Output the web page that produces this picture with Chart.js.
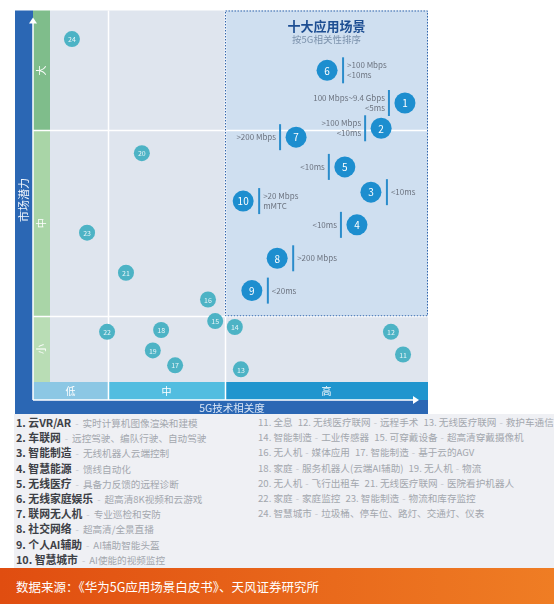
<!DOCTYPE html>
<html>
<head>
<meta charset="utf-8">
<script src="https://cdn.jsdelivr.net/npm/chart.js@4.4.1/dist/chart.umd.min.js"></script>
<style>
body{margin:0;background:#fff;width:554px;height:604px;overflow:hidden;position:relative;font-family:"Noto Sans CJK SC","Noto Sans",sans-serif}
#wrap{position:absolute;left:0;top:0;width:554px;height:414px}
#legend{position:absolute;left:14px;top:414px;width:540px;height:154px;background:#eff0f4}
.col{position:absolute;top:1px}
.row{height:15.2px;line-height:15.2px;font-size:9.6px;color:#a3a7ae;white-space:nowrap}
.row b{color:#3d4046;font-size:10.8px}
.row .d{color:#c3c6cc;margin:0 4px}
#colB .row .d{margin:0 3px}
.row span.g{margin-right:5px}
#foot{position:absolute;left:0;top:568px;width:554px;height:36px;background:linear-gradient(90deg,#e04d10,#ef7d24);color:#fff;font-size:12.5px;line-height:38px;padding-left:16px;box-sizing:border-box}
</style>
</head>
<body>
<div id="wrap"><canvas id="chart"></canvas></div>
<div id="legend"><div class="col" id="colA" style="left:2px"></div><div class="col" id="colB" style="left:244px"></div></div>
<div id="foot">数据来源：《华为5G应用场景白皮书》、天风证券研究所</div>
<script>
// 十大应用场景 (1-10)
const topIds = [1, 2, 3, 4, 5, 6, 7, 8, 9, 10];
const topX = [93.9, 87.6, 84.9, 81.2, 78.0, 73.3, 65.1, 60.1, 53.4, 51.1];
const topY = [75.1, 68.3, 51.1, 42.3, 57.9, 83.9, 65.9, 33.3, 24.6, 48.7];
const topNotes = [
    ['100 Mbps~9.4 Gbps', '<5ms'],
    ['>100 Mbps', '<10ms'],
    ['<10ms'],
    ['<10ms'],
    ['<10ms'],
    ['>100 Mbps', '<10ms'],
    ['>200 Mbps'],
    ['>200 Mbps'],
    ['<20ms'],
    ['>20 Mbps', 'mMTC']
];

// 其他应用场景 (11-24)
const otherIds = [11, 12, 13, 14, 15, 16, 17, 18, 19, 20, 21, 22, 23, 24];
const otherX = [93.4, 90.2, 50.5, 48.9, 43.7, 41.8, 33.1, 29.4, 27.2, 24.3, 20.1, 15.1, 9.8, 5.8];
const otherY = [7.4, 13.5, 3.4, 14.8, 16.4, 22.2, 4.5, 14.0, 8.5, 61.6, 29.4, 13.5, 40.2, 92.3];

// 坐标分区
const xBandLabels = ['低', '中', '高'];
const xBandEdges = [0, 15.3, 46.3, 100];
const yBandLabels = ['小', '中', '大'];
const yBandEdges = [0, 17.7, 67.7, 100];

const appNames = ['云VR/AR', '车联网', '智能制造', '智慧能源', '无线医疗', '无线家庭娱乐', '联网无人机', '社交网络', '个人AI辅助', '智慧城市',
    '全息', '无线医疗联网', '无线医疗联网', '智能制造', '可穿戴设备', '无人机', '智能制造', '家庭', '无人机', '无人机',
    '无线医疗联网', '家庭', '智能制造', '智慧城市'];
const appUses = ['实时计算机图像渲染和建模', '远控驾驶、编队行驶、自动驾驶', '无线机器人云端控制', '馈线自动化', '具备力反馈的远程诊断',
    '超高清8K视频和云游戏', '专业巡检和安防', '超高清/全景直播', 'AI辅助智能头盔', 'AI使能的视频监控',
    '', '远程手术', '救护车通信', '工业传感器', '超高清穿戴摄像机', '媒体应用', '基于云的AGV', '服务机器人(云端AI辅助)', '物流',
    '飞行出租车', '医院看护机器人', '家庭监控', '物流和库存监控', '垃圾桶、停车位、路灯、交通灯、仪表'];
const rightRows = [[11, 12, 13], [14, 15], [16, 17], [18, 19], [20, 21], [22, 23], [24]];

// legend
const colA = document.getElementById('colA');
for (let i = 0; i < 10; i++) {
    colA.innerHTML += '<div class="row"><b>' + (i + 1) + '. ' + appNames[i] + '</b><span class="d">-</span>' + appUses[i] + '</div>';
}
const colB = document.getElementById('colB');
for (const r of rightRows) {
    let html = '';
    for (const n of r) {
        html += '<span class="g">' + n + '. ' + appNames[n - 1] + (appUses[n - 1] ? '<span class="d">-</span>' + appUses[n - 1] : '') + '</span>';
    }
    colB.innerHTML += '<div class="row">' + html + '</div>';
}

const noteSide = {1: -1, 2: -1, 3: 1, 4: -1, 5: -1, 6: 1, 7: -1, 8: 1, 9: 1, 10: 1};
const FONT = '"Noto Sans CJK SC", "Noto Sans", sans-serif';

const framePlugin = {
    id: 'frame',
    beforeDraw(chart) {
        const c = chart.ctx, a = chart.chartArea;
        const xs = chart.scales.x, ys = chart.scales.y;
        const L = a.left, R = a.right, T = a.top, B = a.bottom;
        c.save();
        // outer blue frame
        c.fillStyle = '#2b67b4';
        c.fillRect(L - 35, T, 18, B + 32 - T);
        c.fillRect(L - 35, B + 18, R - L + 35, 14);
        // plot background
        c.fillStyle = '#dfe5ee';
        c.fillRect(L, T, R - L, B - T);
        // top ten region
        const dx = xs.getPixelForValue(xBandEdges[2]);
        const dy = ys.getPixelForValue(yBandEdges[1]);
        c.fillStyle = '#cfdff0';
        c.fillRect(dx, T, R - dx, dy - T);
        // y band
        const yCols = ['#b9ddb5', '#a9d5a7', '#7fbd8b'];
        for (let i = 0; i < 3; i++) {
            const y0 = ys.getPixelForValue(yBandEdges[i]), y1 = ys.getPixelForValue(yBandEdges[i + 1]);
            c.fillStyle = yCols[i];
            c.fillRect(L - 17, y1, 17, y0 - y1);
            c.save();
            c.translate(L - 8.5, (y0 + y1) / 2);
            c.rotate(-Math.PI / 2);
            c.fillStyle = '#ffffff';
            c.font = '10px ' + FONT;
            c.textAlign = 'center';
            c.textBaseline = 'middle';
            c.fillText(yBandLabels[i], 0, 0);
            c.restore();
        }
        // x band
        const xCols = ['#8cc7e4', '#52bde0', '#2095ce'];
        for (let i = 0; i < 3; i++) {
            let x0 = xs.getPixelForValue(xBandEdges[i]), x1 = xs.getPixelForValue(xBandEdges[i + 1]);
            if (i === 0) x0 = L - 17;
            c.fillStyle = xCols[i];
            c.fillRect(x0, B, x1 - x0, 18);
            c.fillStyle = '#ffffff';
            c.font = '10px ' + FONT;
            c.textAlign = 'center';
            c.textBaseline = 'middle';
            c.fillText(xBandLabels[i], (x0 + x1) / 2, B + 9);
        }
        // white grid lines
        c.strokeStyle = '#ffffff';
        c.lineWidth = 1.5;
        c.beginPath();
        for (const v of [xBandEdges[1], xBandEdges[2]]) {
            const px = Math.round(xs.getPixelForValue(v)) + 0.5;
            c.moveTo(px, T);
            c.lineTo(px, B + 18);
        }
        for (const v of [yBandEdges[1], yBandEdges[2]]) {
            const py = Math.round(ys.getPixelForValue(v)) + 0.5;
            c.moveTo(L - 17, py);
            c.lineTo(R, py);
        }
        c.stroke();
        // dotted border
        c.strokeStyle = '#3266ad';
        c.lineWidth = 1;
        c.setLineDash([1.5, 1.5]);
        c.strokeRect(dx + 0.5, T + 0.5, R - dx - 1, dy - T - 1);
        c.setLineDash([]);
        // axis arrows
        c.strokeStyle = '#ffffff';
        c.fillStyle = '#ffffff';
        c.lineWidth = 1.5;
        c.beginPath();
        c.moveTo(L - 17, B + 18);
        c.lineTo(L - 17, T + 10);
        c.moveTo(L - 17, B + 18);
        c.lineTo(R - 12, B + 18);
        c.stroke();
        c.beginPath();
        c.moveTo(L - 17, T + 7);
        c.lineTo(L - 21, T + 13);
        c.lineTo(L - 13, T + 13);
        c.closePath();
        c.fill();
        c.beginPath();
        c.moveTo(R - 9, B + 18);
        c.lineTo(R - 15, B + 14);
        c.lineTo(R - 15, B + 22);
        c.closePath();
        c.fill();
        // axis titles
        c.font = '11px ' + FONT;
        c.textAlign = 'center';
        c.textBaseline = 'middle';
        c.fillStyle = '#f2f6fc';
        c.save();
        c.translate(L - 26, 200);
        c.rotate(-Math.PI / 2);
        c.fillText('市场潜力', 0, 0);
        c.restore();
        c.fillStyle = '#d9e5f5';
        c.font = '10.5px ' + FONT;
        c.fillText('5G技术相关度', 232, B + 26);
        // region title
        const cx = (dx + R) / 2;
        c.fillStyle = '#1d4e92';
        c.font = 'bold 13px ' + FONT;
        c.fillText('十大应用场景', cx, T + 16);
        c.fillStyle = '#7d93ad';
        c.font = '9.5px ' + FONT;
        c.fillText('按5G相关性排序', cx, T + 29);
        c.restore();
    },
    afterDatasetsDraw(chart) {
        const c = chart.ctx;
        c.save();
        c.textAlign = 'center';
        c.textBaseline = 'middle';
        // numbers in small bubbles
        chart.getDatasetMeta(0).data.forEach(function (p, i) {
            c.fillStyle = '#e8f5f8';
            c.font = '7px ' + FONT;
            c.fillText(String(otherIds[i]), p.x, p.y + 0.5);
        });
        // top ten
        chart.getDatasetMeta(1).data.forEach(function (p, i) {
            const id = topIds[i];
            c.fillStyle = '#ffffff';
            c.font = '10px ' + FONT;
            c.textAlign = 'center';
            c.fillText(String(id), p.x, p.y + 0.5);
            const side = noteSide[id];
            const lx = p.x + side * 16;
            c.strokeStyle = '#2a8ccb';
            c.lineWidth = 2;
            c.beginPath();
            c.moveTo(lx, p.y - 13);
            c.lineTo(lx, p.y + 13);
            c.stroke();
            const lines = topNotes[i];
            c.fillStyle = '#6d7480';
            c.font = '8px ' + FONT;
            c.textAlign = side > 0 ? 'left' : 'right';
            lines.forEach(function (t, k) {
                const off = lines.length === 1 ? 0 : (k === 0 ? -5 : 5);
                c.fillText(t, lx + side * 4, p.y + off);
            });
        });
        c.restore();
    }
};

new Chart(document.getElementById('chart').getContext('2d'), {
    type: 'bubble',
    data: {
        datasets: [
            {
                label: '其他',
                data: otherIds.map(function (id, i) { return {x: otherX[i], y: otherY[i], r: 8}; }),
                backgroundColor: '#4db3c5',
                borderWidth: 0
            },
            {
                label: '十大应用场景',
                data: topIds.map(function (id, i) { return {x: topX[i], y: topY[i], r: 10.5}; }),
                backgroundColor: '#1d8ecf',
                borderWidth: 0
            }
        ]
    },
    options: {
        responsive: true,
        maintainAspectRatio: false,
        animation: false,
        layout: {padding: {left: 50, right: 126, top: 4, bottom: 32}},
        scales: {
            x: {type: 'linear', min: 0, max: 100, display: false},
            y: {type: 'linear', min: 0, max: 100, display: false}
        },
        plugins: {
            legend: {display: false},
            tooltip: {enabled: false}
        }
    },
    plugins: [framePlugin]
});
</script>
</body>
</html>
